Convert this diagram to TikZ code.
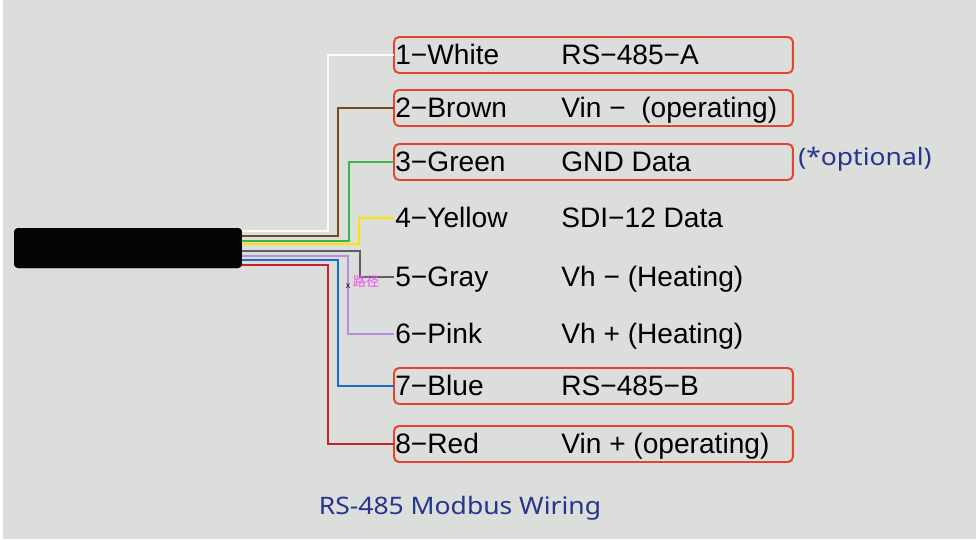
\documentclass[tikz,border=0pt]{standalone}
\usepackage{fontspec}
\setmainfont{Liberation Sans}
\newfontfamily\titlefont[FakeStretch=1.1]{Noto Sans}
\newfontfamily\cjkfont{Noto Sans CJK SC}

\definecolor{bggray}{RGB}{220,222,220}
\definecolor{boxred}{RGB}{232,66,44}
\definecolor{notenavy}{RGB}{38,52,140}
\definecolor{tagpink}{RGB}{240,80,240}
\definecolor{cwhite}{RGB}{250,250,250}
\definecolor{cbrown}{RGB}{122,74,30}
\definecolor{cgreen}{RGB}{60,180,72}
\definecolor{cyellow}{RGB}{255,226,0}
\definecolor{cgray}{RGB}{95,95,95}
\definecolor{cpink}{RGB}{186,140,228}
\definecolor{cblue}{RGB}{24,112,198}
\definecolor{cred}{RGB}{208,30,46}

\tikzset{
  cable/.style={fill={rgb,255:red,5;green,5;blue,5}, rounded corners=0.08cm,
    minimum width=4.56cm, minimum height=0.8cm, inner sep=0, outer sep=0},
  rowbox/.style={draw=boxred, line width=1.1pt, rounded corners=0.1cm,
    minimum width=7.98cm, minimum height=0.72cm, anchor=west, inner sep=0, outer sep=0},
  rowplain/.style={rowbox, draw=none},
  lbl/.style={anchor=base west, inner sep=0, font=\fontsize{16}{19}\selectfont},
  note/.style={inner sep=0, text=notenavy, font=\titlefont\fontsize{13.7}{16}\selectfont},
  wire/.style={line width=1.6pt},
}

\begin{document}
\begin{tikzpicture}[x=0.02cm, y=-0.02cm]
      \useasboundingbox (0,0) rectangle (979,539);
      \fill[white] (0,0) rectangle (979,539);
      \fill[bggray] (3,0) rectangle (976,539);
      \draw
        (394, 55) node[rowbox] (r1){}
        (394, 108) node[rowbox] (r2){}
        (394, 162) node[rowbox] (r3){}
        (394, 218) node[rowplain] (r4){}
        (394, 277) node[rowplain] (r5){}
        (394, 334) node[rowplain] (r6){}
        (394, 386) node[rowbox] (r7){}
        (394, 444) node[rowbox] (r8){};
      % wires, leaving the cable end
      \node[cable] (cable) at (128, 248) {};
      \begin{scope}[wire]
        \draw[cwhite] (cable.east) ++(0,-17) -- ++(86,0) |- (r1.west);
        \draw[cbrown] (cable.east) ++(0,-12) -- ++(96,0) |- (r2.west);
        \draw[cgreen] (cable.east) ++(0,-7) -- ++(107,0) |- (r3.west);
        \draw[cyellow] (cable.east) ++(0,-4) -- ++(117,0) |- (r4.west);
        \draw[cgray] (cable.east) ++(0,3) -- ++(118,0) |- (r5.west);
        \draw[cpink] (cable.east) ++(0,8) -- ++(106,0) |- (r6.west);
        \draw[cblue] (cable.east) ++(0,12) -- ++(96,0) |- (r7.west);
        \draw[cred] (cable.east) ++(0,17) -- ++(86,0) |- (r8.west);
      \end{scope}
      \node[cable] at (cable) {};
      % labels
      \node[lbl] (n1) at (395, 64) {1−White};
      \node[lbl] (f1) at (561, 64) {RS−485−A};
      \node[lbl] (n2) at (395, 117) {2−Brown};
      \node[lbl] (f2) at (561, 117) {Vin −\ \ (operating)};
      \node[lbl] (n3) at (395, 171) {3−Green};
      \node[lbl] (f3) at (561, 171) {GND Data};
      \node[lbl] (n4) at (395, 227) {4−Yellow};
      \node[lbl] (f4) at (561, 227) {SDI−12 Data};
      \node[lbl] (n5) at (395, 286) {5−Gray};
      \node[lbl] (f5) at (561, 286) {Vh − (Heating)};
      \node[lbl] (n6) at (395, 343) {6−Pink};
      \node[lbl] (f6) at (561, 343) {Vh + (Heating)};
      \node[lbl] (n7) at (395, 395) {7−Blue};
      \node[lbl] (f7) at (561, 395) {RS−485−B};
      \node[lbl] (n8) at (395, 453) {8−Red};
      \node[lbl] (f8) at (561, 453) {Vin + (operating)};
      \node[note] (opt) at (865, 159) {(*optional)};
      \node[note] (title) at (460, 508) {RS-485 Modbus Wiring};
      % stray marks
      \node[inner sep=0, text=tagpink, font=\cjkfont\fontsize{7.5}{8}\selectfont] (tag) at (366, 281) {路径};
      \node[inner sep=0, font=\fontsize{5}{5}\selectfont] (xmark) at (348, 286) {x};
    \end{tikzpicture}
\end{document}
